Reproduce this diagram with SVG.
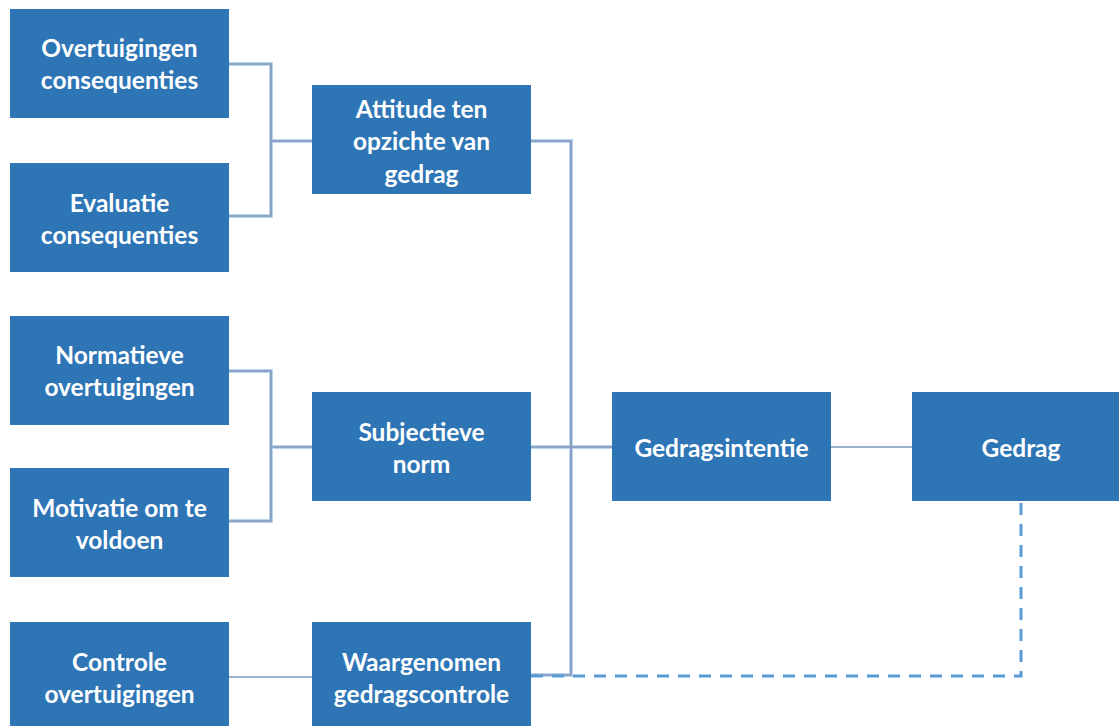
<svg xmlns="http://www.w3.org/2000/svg" width="1119" height="726" viewBox="0 0 1119 726">
  <style>
    .box { fill: #2E75B6; }
    .lbl { fill: #ffffff; font-family: Lato, "Open Sans", "Liberation Sans", sans-serif; font-weight: bold; font-size: 24.5px; text-anchor: middle; }
    .glow { fill: none; stroke: #bcd4ee; stroke-width: 4; }
    .ln { fill: none; stroke: #7b97b8; stroke-width: 1.6; }
    .dash { fill: none; stroke: #5b9bd5; stroke-width: 3; stroke-dasharray: 12 9; }
  </style>
  <rect width="1119" height="726" fill="#ffffff"/>

  <g id="connectors">
    <path class="glow" d="M229 64 H271 V216 H229 M271 141 H312"/>
    <path class="ln" d="M229 64 H271 V216 H229 M271 141 H312"/>
    <path class="glow" d="M229 371 H271 V521 H229 M271 447 H312"/>
    <path class="ln" d="M229 371 H271 V521 H229 M271 447 H312"/>
    <path class="ln" d="M229 677 H312"/>
    <path class="glow" d="M531 141 H571 V675 H531 M531 447 H612"/>
    <path class="ln" d="M531 141 H571 V675 H531 M531 447 H612"/>
    <path class="ln" d="M831 447 H912"/>
    <path class="dash" d="M531 676 H1021 V501"/>
  </g>

  <g id="overtuigingen-consequenties">
    <rect class="box" x="10" y="9" width="219" height="109"/>
    <text class="lbl" x="119.5" y="57">Overtuigingen</text>
    <text class="lbl" x="119.5" y="89">consequenties</text>
  </g>
  <g id="evaluatie-consequenties">
    <rect class="box" x="10" y="163" width="219" height="109"/>
    <text class="lbl" x="119.5" y="212">Evaluatie</text>
    <text class="lbl" x="119.5" y="244">consequenties</text>
  </g>
  <g id="normatieve-overtuigingen">
    <rect class="box" x="10" y="316" width="219" height="109"/>
    <text class="lbl" x="119.5" y="364">Normatieve</text>
    <text class="lbl" x="119.5" y="396">overtuigingen</text>
  </g>
  <g id="motivatie">
    <rect class="box" x="10" y="468" width="219" height="109"/>
    <text class="lbl" x="119.5" y="517">Motivatie om te</text>
    <text class="lbl" x="119.5" y="549">voldoen</text>
  </g>
  <g id="controle-overtuigingen">
    <rect class="box" x="10" y="622" width="219" height="110"/>
    <text class="lbl" x="119.5" y="671">Controle</text>
    <text class="lbl" x="119.5" y="703">overtuigingen</text>
  </g>
  <g id="attitude">
    <rect class="box" x="312" y="85" width="219" height="109"/>
    <text class="lbl" x="421.5" y="118">Attitude ten</text>
    <text class="lbl" x="421.5" y="150">opzichte van</text>
    <text class="lbl" x="421.5" y="183">gedrag</text>
  </g>
  <g id="subjectieve-norm">
    <rect class="box" x="312" y="392" width="219" height="109"/>
    <text class="lbl" x="421.5" y="441">Subjectieve</text>
    <text class="lbl" x="421.5" y="473">norm</text>
  </g>
  <g id="waargenomen-gedragscontrole">
    <rect class="box" x="312" y="622" width="219" height="110"/>
    <text class="lbl" x="421.5" y="671">Waargenomen</text>
    <text class="lbl" x="421.5" y="703">gedragscontrole</text>
  </g>
  <g id="gedragsintentie">
    <rect class="box" x="612" y="392" width="219" height="109"/>
    <text class="lbl" x="721.5" y="457">Gedragsintentie</text>
  </g>
  <g id="gedrag">
    <rect class="box" x="912" y="392" width="207" height="109"/>
    <text class="lbl" x="1021" y="457">Gedrag</text>
  </g>
</svg>
